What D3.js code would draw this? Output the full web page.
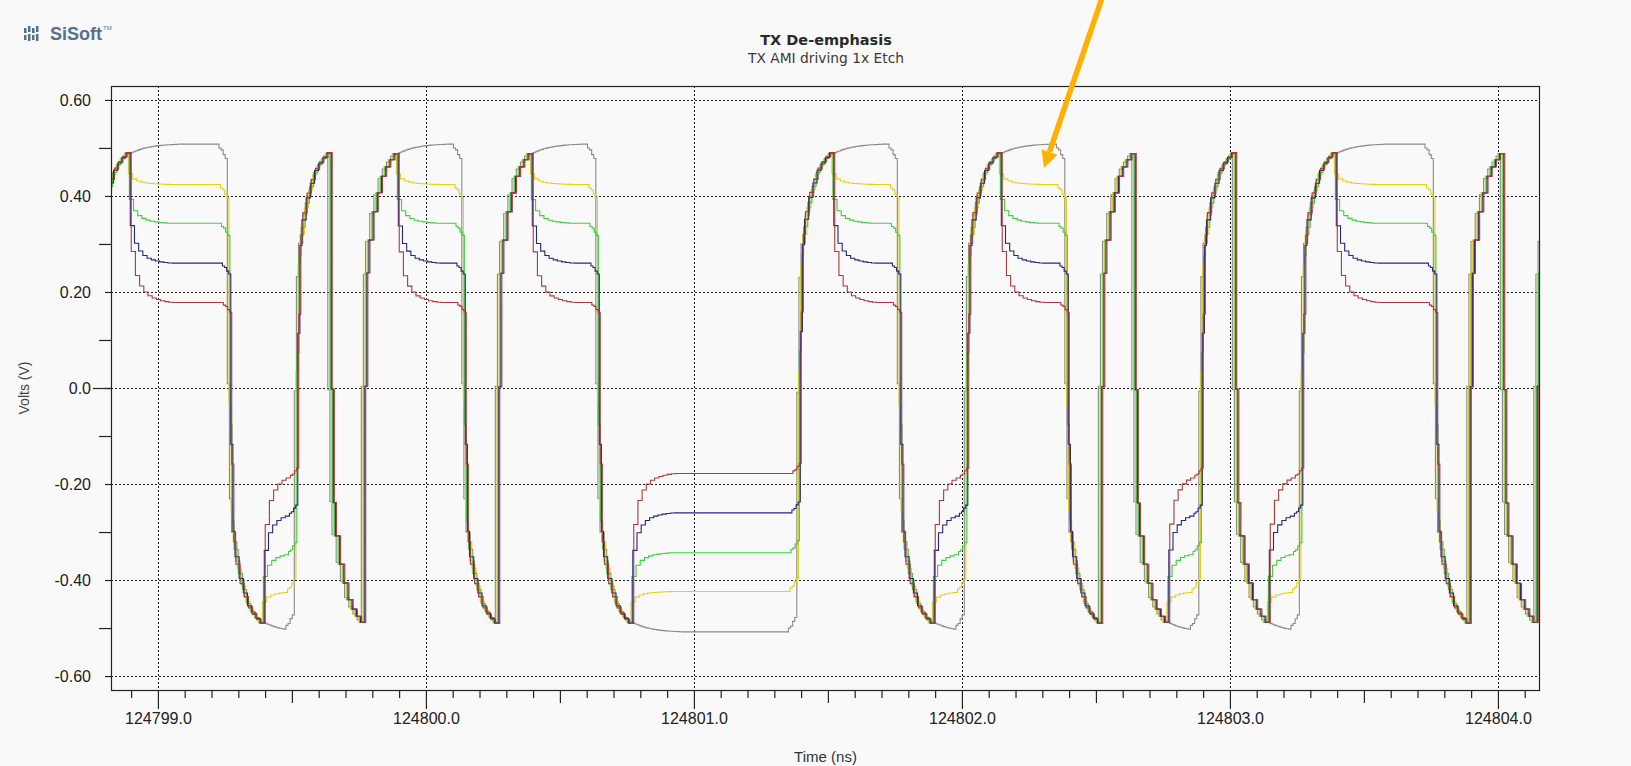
<!DOCTYPE html>
<html>
<head>
<meta charset="utf-8">
<script src="https://cdn.jsdelivr.net/npm/d3@7"></script>
<style>
  html, body { margin: 0; padding: 0; background: #f9f9f9; }
  svg { display: block; }
</style>
</head>
<body>
<svg id="chart" width="1631" height="766"></svg>
<script>
// ---------------- data ----------------
const titleText = "TX De-emphasis";
const subtitleText = "TX AMI driving 1x Etch";
const xLabelText = "Time (ns)";
const yLabelText = "Volts (V)";

// time window (ns) and voltage window (V)
const timeDomain = [124798.825, 124804.157];
const voltDomain = [-0.629, 0.629];

// bit pattern, one entry per unit interval, first bit starts at bitStart
const bitStart = 124798.765;
const unitInterval = 0.125;
const bits = [1,1,1,1, 0,0, 1, 0, 1,1,1, 0, 1,1,1, 0,0,0,0,0,0, 1,1,1, 0,0, 1,1,1, 0, 1, 0,0, 1, 0,0, 1,1,1,1, 0, 1, 0, 1];

// five traces: reference (no de-emphasis) and four de-emphasis settings
const seriesNames  = ["no de-emphasis", "de-emphasis 1", "de-emphasis 2", "de-emphasis 3", "de-emphasis 4"];
const seriesColors = ["#8a8a8a", "#e4cf1a", "#3fcf3f", "#26267f", "#b03a3a"];
const peakLevels   = [0.490, 0.495, 0.495, 0.495, 0.495];   // level reached during a transition bit
const holdLevels   = [0.508, 0.424, 0.343, 0.260, 0.178];   // level held during repeated bits
const seriesDelay  = [-0.006, 0.000, 0.0035, 0.007, 0.0105]; // ns

// edge / settle shapes, sampled every 1/16 UI (fraction of the swing)
const preShape    = [0.008, 0.012, 0.022, 0.03];
const edgeShape   = [0.5, 0.74, 0.81, 0.81, 0.87, 0.87, 0.91, 0.91, 0.945, 0.945, 0.965, 0.965, 0.98, 0.98, 0.993, 0.993, 1.0];
const deShape     = [0.66, 0.66, 0.82, 0.82, 0.89, 0.89, 0.93, 0.93, 0.955, 0.955, 0.97, 0.97, 0.98, 0.98, 0.988, 0.988, 0.994, 0.994, 0.998, 0.998, 1.0];
const settleShape = [0.1, 0.2, 0.28, 0.36, 0.43, 0.5, 0.56, 0.61, 0.66, 0.7, 0.74, 0.77, 0.8, 0.83, 0.85, 0.87, 0.89, 0.91, 0.925, 0.94, 0.95, 0.96, 0.97, 0.98, 0.99, 1.0];

// axis ticks
const xMajorTicks = [124799, 124800, 124801, 124802, 124803, 124804];
const yMajorTicks = [0.6, 0.4, 0.2, 0.0, -0.2, -0.4, -0.6];
const yMajorLabels = ["0.60", "0.40", "0.20", "0.0", "-0.20", "-0.40", "-0.60"];
const yMinorTicks = [0.5, 0.3, 0.1, -0.1, -0.3, -0.5];

// ---------------- layout ----------------
const W = 1631, H = 766;
const plot = { left: 111, right: 1540, top: 86, bottom: 690 };

const svg = d3.select("#chart");
svg.append("rect").attr("width", W).attr("height", H).attr("fill", "#f9f9f9");

const x = d3.scaleLinear().domain(timeDomain).range([plot.left, plot.right]);
const y = d3.scaleLinear().domain(voltDomain).range([plot.bottom, plot.top]);

// ---------------- waveform construction ----------------
function buildWave(s) {
  const dt = unitInterval / 16;
  const events = [];
  let prev = 0, run = 99;
  bits.forEach((b, i) => {
    const sign = b ? 1 : -1;
    const tb = bitStart + i * unitInterval + seriesDelay[s];
    if (b !== prev) {
      const pre = run >= 2 ? preShape : [];
      events.push({ t: tb - pre.length * dt, target: sign * peakLevels[s], shape: pre.concat(edgeShape) });
      run = 1;
    } else {
      if (run === 1) {
        events.push({ t: tb, target: sign * holdLevels[s], shape: s === 0 ? settleShape : deShape });
      }
      run++;
    }
    prev = b;
  });
  const tEnd = timeDomain[1] + unitInterval;
  let v = -holdLevels[s];
  const pts = [[bitStart - unitInterval, v]];
  events.forEach((e, k) => {
    const tNext = k + 1 < events.length ? events[k + 1].t : tEnd;
    const v0 = v;
    for (let j = 0; ; j++) {
      const t = e.t + j * dt;
      if (t >= tNext - 1e-9) break;
      const f = e.shape[Math.min(j, e.shape.length - 1)];
      v = v0 + (e.target - v0) * f;
      pts.push([t, v]);
    }
  });
  pts.push([tEnd, v]);
  return pts;
}

// ---------------- grid ----------------
svg.append("defs").append("clipPath").attr("id", "plotclip")
  .append("rect").attr("x", plot.left).attr("y", plot.top)
  .attr("width", plot.right - plot.left).attr("height", plot.bottom - plot.top);

const grid = svg.append("g");
grid.selectAll("line.hg").data(yMajorTicks).join("line")
  .attr("x1", plot.left).attr("x2", plot.right)
  .attr("y1", d => Math.round(y(d)) + 0.5).attr("y2", d => Math.round(y(d)) + 0.5)
  .attr("stroke", "#1a1a1a").attr("stroke-width", 1).attr("stroke-dasharray", "2,2");
grid.selectAll("line.vg").data(xMajorTicks).join("line")
  .attr("x1", d => Math.round(x(d)) + 0.5).attr("x2", d => Math.round(x(d)) + 0.5)
  .attr("y1", plot.top).attr("y2", plot.bottom)
  .attr("stroke", "#1a1a1a").attr("stroke-width", 1).attr("stroke-dasharray", "2,2");

// ---------------- traces ----------------
const line = d3.line().x(d => x(d[0])).y(d => y(d[1])).curve(d3.curveStepAfter);
const traces = svg.append("g").attr("clip-path", "url(#plotclip)");
seriesNames.forEach((name, s) => {
  traces.append("path")
    .datum(buildWave(s))
    .attr("fill", "none")
    .attr("stroke", seriesColors[s])
    .attr("stroke-width", 1.1)
    .attr("d", line);
});

// ---------------- frame ----------------
svg.append("rect")
  .attr("x", plot.left + 0.5).attr("y", plot.top + 0.5)
  .attr("width", plot.right - plot.left - 1).attr("height", plot.bottom - plot.top)
  .attr("fill", "none").attr("stroke", "#222").attr("stroke-width", 1.2);

// ---------------- axes ----------------
const fontTicks = "'Liberation Sans', Arial, sans-serif";
function styleAxis(g) {
  g.select(".domain").remove();
  g.selectAll(".tick line").attr("stroke", "#222").attr("stroke-width", 1.2);
  g.selectAll(".tick text").attr("fill", "#222").style("font-family", fontTicks).style("font-size", "16px");
}

// y axis
svg.append("g").attr("transform", `translate(${plot.left},0)`)
  .call(d3.axisLeft(y).tickValues(yMajorTicks).tickSize(6).tickPadding(14)
    .tickFormat((d, i) => yMajorLabels[i]))
  .call(styleAxis);
svg.append("g").attr("transform", `translate(${plot.left},0)`)
  .call(d3.axisLeft(y).tickValues(yMinorTicks).tickSize(12).tickFormat(""))
  .call(styleAxis);
svg.append("g").attr("transform", `translate(${plot.left},0)`)
  .call(d3.axisLeft(y).tickValues([0]).tickSize(18).tickFormat(""))
  .call(styleAxis);

// x axis
const xMinor = d3.range(-1, 53).map(i => +(124799 + i * 0.1).toFixed(1))
  .filter(t => t >= timeDomain[0] && t <= timeDomain[1] && Math.abs(t - Math.round(t)) > 1e-6 && Math.abs(t - Math.floor(t) - 0.5) > 1e-6);
const xMid = xMajorTicks.map(t => t + 0.5).filter(t => t <= timeDomain[1]);
svg.append("g").attr("transform", `translate(0,${plot.bottom})`)
  .call(d3.axisBottom(x).tickValues(xMinor).tickSize(8).tickFormat(""))
  .call(styleAxis);
svg.append("g").attr("transform", `translate(0,${plot.bottom})`)
  .call(d3.axisBottom(x).tickValues(xMid).tickSize(13).tickFormat(""))
  .call(styleAxis);
svg.append("g").attr("transform", `translate(0,${plot.bottom})`)
  .call(d3.axisBottom(x).tickValues(xMajorTicks).tickSize(19).tickPadding(4).tickFormat(d3.format(".1f")))
  .call(styleAxis);

// axis titles
svg.append("text")
  .attr("x", (plot.left + plot.right) / 2).attr("y", 762)
  .attr("text-anchor", "middle").attr("fill", "#333")
  .style("font-family", fontTicks).style("font-size", "15px")
  .text(xLabelText);
svg.append("text")
  .attr("transform", `translate(29,${y(0)}) rotate(-90)`)
  .attr("text-anchor", "middle").attr("fill", "#444")
  .style("font-family", fontTicks).style("font-size", "14px")
  .text(yLabelText);

// titles
svg.append("text")
  .attr("x", 826).attr("y", 45).attr("text-anchor", "middle").attr("fill", "#2a2a2a")
  .style("font-family", "'DejaVu Sans', sans-serif").style("font-weight", "bold").style("font-size", "14.5px")
  .text(titleText);
svg.append("text")
  .attr("x", 826).attr("y", 63).attr("text-anchor", "middle").attr("fill", "#3a3a3a")
  .style("font-family", "'DejaVu Sans', sans-serif").style("font-size", "13.8px")
  .text(subtitleText);

// ---------------- logo ----------------
const logo = svg.append("g").attr("fill", "#56708f");
const logoBars = [[24, 28, 5], [24, 35, 5], [28, 26, 6], [28, 34, 7], [32, 28, 5], [32, 35, 5], [36, 26, 6], [36, 34, 7]];
logo.selectAll("rect").data(logoBars).join("rect")
  .attr("x", d => d[0]).attr("y", d => d[1]).attr("width", 2.5).attr("height", d => d[2]);
logo.append("text").attr("x", 50).attr("y", 40)
  .style("font-family", fontTicks).style("font-weight", "bold").style("font-size", "18px")
  .text("SiSoft");
logo.append("text").attr("x", 103).attr("y", 30)
  .style("font-family", fontTicks).style("font-size", "6px")
  .text("TM");

// ---------------- annotation arrow ----------------
const ax0 = 1102, ay0 = -2, ax1 = 1044, ay1 = 168;
const ang = Math.atan2(ay1 - ay0, ax1 - ax0);
const headLen = 17, headHalf = 8.5;
const bx = ax1 - headLen * Math.cos(ang), by = ay1 - headLen * Math.sin(ang);
svg.append("line").attr("x1", ax0).attr("y1", ay0).attr("x2", bx).attr("y2", by)
  .attr("stroke", "#ffb000").attr("stroke-width", 5.5);
svg.append("path")
  .attr("d", `M${ax1},${ay1} L${bx + headHalf * Math.sin(ang)},${by - headHalf * Math.cos(ang)} L${bx - headHalf * Math.sin(ang)},${by + headHalf * Math.cos(ang)} Z`)
  .attr("fill", "#ffb000");
</script>
</body>
</html>
